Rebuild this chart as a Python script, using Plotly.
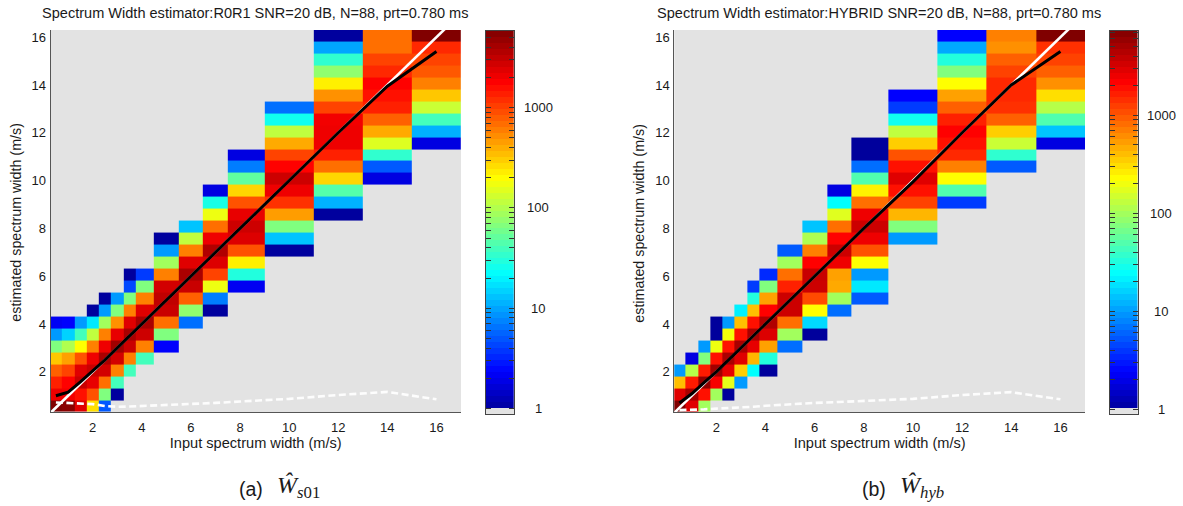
import math
import plotly.graph_objects as go

W, H = 1183, 506

# Bin edges of the two-dimensional histogram (m/s)
input_edges = [0.25, 0.75, 1.25, 1.75, 2.25, 2.75, 3.25, 3.75, 4.5, 5.5, 6.5, 7.5, 9, 11, 13, 15, 17]
est_first_edge = 0.32
est_bin = 0.5
est_rows = 32

# Counts per input-width column; each list starts at the row in *_start (row 0 = lowest)
a_start = [0, 0, 0, 0, 0, 1, 3, 4, 5, 7, 8, 10, 13, 16, 19, 22]
a_counts = [
    [5800, 2060, 1350, 776, 319, 66, 9, 2.1],
    [5300, 1990, 1770, 1000, 443, 100, 14.7, 2.3],
    [2370, 1550, 2950, 2370, 880, 197, 39, 9],
    [259, 880, 2200, 2950, 2060, 590, 114, 18, 1],
    [5.1, 66, 680, 2720, 3900, 2060, 590, 88, 9, 1],
    [1, 39, 590, 2720, 4300, 2200, 510, 66, 9],
    [39, 590, 2950, 3990, 2370, 590, 66, 4.4, 1],
    [39, 590, 2850, 3990, 2370, 590, 66, 3.9],
    [2.3, 66, 680, 2950, 3200, 2720, 590, 88, 9, 1],
    [6.2, 76, 776, 2950, 3990, 2370, 590, 114, 13],
    [1, 7, 170, 1000, 2450, 3700, 2060, 680, 170, 27, 1.8],
    [2.1, 29, 225, 880, 2450, 2850, 2200, 880, 280, 50, 7, 1.8],
    [1, 13, 66, 460, 1170, 2060, 2850, 1770, 1000, 410, 114, 25, 6.2],
    [1, 11, 45, 280, 680, 1350, 2060, 2060, 1990, 1000, 510, 225, 76, 33, 10, 1],
    [1.8, 5.1, 33, 148, 410, 776, 1350, 1550, 1770, 1260, 1000, 680, 680],
    [1.8, 11, 39, 125, 319, 590, 830, 1000, 1260, 5800],
]
b_start = [0, 0, 0, 1, 1, 2, 3, 3, 5, 6, 8, 9, 14, 17, 20, 22]
b_counts = [
    [7170, 2871, 395, 9.6],
    [2871, 4898, 1700, 118, 1.85],
    [99, 1858, 6200, 1700, 74, 9.6],
    [99, 2300, 5300, 1858, 195, 1, 1],
    [1, 180, 2700, 4800, 1858, 205, 9.6],
    [9.6, 347, 2871, 4898, 1858, 395, 21],
    [24, 430, 2700, 4898, 1858, 390, 32, 4.1],
    [1, 32, 517, 3000, 4500, 2128, 517, 74, 3.5],
    [6.5, 99, 802, 3467, 3467, 1614, 802, 99, 5.4],
    [1, 16.9, 226, 1110, 3467, 3600, 2128, 693, 110, 14],
    [6.5, 99, 480, 517, 2489, 3467, 2128, 802, 171, 24, 1.85],
    [5.4, 19.5, 9.6, 226, 1040, 2489, 3467, 2489, 802, 250, 48, 6.5, 1, 1],
    [9.6, 74, 430, 1190, 1858, 2871, 1858, 1040, 347, 129, 27, 4.1, 2.4],
    [4.1, 48, 226, 693, 1500, 1858, 2128, 1614, 917, 517, 226, 74, 32, 11, 2.4],
    [5.4, 36, 141, 347, 917, 1394, 1500, 1500, 1190, 917, 600, 693],
    [1.85, 14, 48, 118, 300, 600, 917, 1190, 1394, 7170],
]

# Overlaid curves
input_width = [0.5, 1, 1.5, 2, 2.5, 3, 3.5, 4, 5, 6, 7, 8, 10, 12, 14, 16]
a_mean = [1.0, 1.15, 1.58, 2.02, 2.5, 3, 3.5, 4, 5, 6, 7, 8, 10, 12, 13.95, 15.4]
b_mean = [0.7, 1.08, 1.55, 2, 2.5, 3, 3.5, 4, 5, 6, 7, 8, 9.95, 12, 14, 15.4]
a_std = [0.72, 0.7, 0.67, 0.65, 0.57, 0.54, 0.55, 0.57, 0.6, 0.63, 0.7, 0.76, 0.87, 1.03, 1.16, 0.85]
b_std = [0.4, 0.4, 0.43, 0.46, 0.48, 0.5, 0.54, 0.58, 0.65, 0.7, 0.74, 0.78, 0.87, 1.03, 1.15, 0.85]
ideal = [0.25, 16.5]

x_ticks = [2, 4, 6, 8, 10, 12, 14, 16]
y_ticks = [2, 4, 6, 8, 10, 12, 14, 16]
bar_labels = [1, 10, 100, 1000]
bar_minor = [1, 2, 3, 4, 5, 6, 7, 8, 9, 10, 20, 30, 40, 50, 60, 70, 80, 90,
             100, 200, 300, 400, 500, 600, 700, 800, 900, 1000, 2000, 3000, 4000, 5000, 6000, 7000]

title_a = "Spectrum Width estimator:R0R1 SNR=20 dB, N=88, prt=0.780 ms"
title_b = "Spectrum Width estimator:HYBRID SNR=20 dB, N=88, prt=0.780 ms"
x_label = "Input spectrum width (m/s)"
y_label = "estimated spectrum width (m/s)"

JET = [[0, "#00008f"], [0.111, "#0000ff"], [0.365, "#00ffff"], [0.615, "#ffff00"],
       [0.865, "#ff0000"], [1, "#800000"]]
GREY = "#e3e3e3"
AXC = "#555555"
SANS = "Liberation Sans"
TXT = "#1a1a1a"

est_edges = [est_first_edge + est_bin * i for i in range(est_rows + 1)]


def grid(starts, columns):
    z = [[None] * len(columns) for _ in range(est_rows)]
    for c, (s, vals) in enumerate(zip(starts, columns)):
        for k, v in enumerate(vals):
            z[s + k][c] = math.log10(v)
    return z


def px(x):
    return x / W


def py(y):
    return 1 - y / H


fig = go.Figure()
panels = [
    dict(xd=(50.5, 461), xr=[0.28, 17], bar=(485.7, 514), cmin=0.88, cmax=5834, starts=a_start,
         cols=a_counts, mean=a_mean, std=a_std, title=title_a, tx=255, lc=538, ylx=16,
         cap=("(a)", 250.5, "<i>Ŵ</i><sub><i>s</i>01</sub>", 298)),
    dict(xd=(674.3, 1085), xr=[0.29, 17], bar=(1109.7, 1137.7), cmin=0.89, cmax=7200, starts=b_start,
         cols=b_counts, mean=b_mean, std=b_std, title=title_b, tx=879, lc=1161, ylx=639,
         cap=("(b)", 874, "<i>Ŵ</i><sub><i>hyb</i></sub>", 922)),
]
layout = {}
annotations = []
for i, p in enumerate(panels):
    ax_x = f"x{'' if i == 0 else 3}"
    ax_y = f"y{'' if i == 0 else 3}"
    bx = f"x{2 if i == 0 else 4}"
    by = f"y{2 if i == 0 else 4}"
    zmin, zmax = math.log10(p["cmin"]), math.log10(p["cmax"])
    fig.add_trace(go.Heatmap(x=input_edges, y=est_edges, z=grid(p["starts"], p["cols"]), colorscale=JET,
                             zmin=zmin, zmax=zmax, showscale=False, xaxis=ax_x, yaxis=ax_y, zsmooth=False))
    fig.add_trace(go.Scatter(x=ideal, y=ideal, mode="lines", line=dict(color="white", width=2.6),
                             xaxis=ax_x, yaxis=ax_y, showlegend=False))
    fig.add_trace(go.Scatter(x=input_width, y=p["std"], mode="lines",
                             line=dict(color="#fdfdfd", width=2.6, dash="7px,3.5px"),
                             xaxis=ax_x, yaxis=ax_y, showlegend=False))
    fig.add_trace(go.Scatter(x=input_width, y=p["mean"], mode="lines", line=dict(color="black", width=3),
                             xaxis=ax_x, yaxis=ax_y, showlegend=False))
    # 64-level colour bar drawn on its own log axis, lowest level shows the "no data" grey
    levels = 64
    step = (zmax - zmin) / levels
    bar_edges = [zmin + step * k for k in range(levels + 1)]
    bar_z = [[None]] + [[zmin + step * (k + 0.5)] for k in range(1, levels)]
    fig.add_trace(go.Heatmap(x=[0, 1], y=bar_edges, z=bar_z, colorscale=JET, zmin=zmin, zmax=zmax,
                             showscale=False, xaxis=bx, yaxis=by, zsmooth=False))

    key = "" if i == 0 else "3"
    bkey = "2" if i == 0 else "4"
    font = dict(family=SANS, size=13, color=TXT)
    layout[f"xaxis{key}"] = dict(domain=[px(p["xd"][0]), px(p["xd"][1])], range=p["xr"], tickvals=x_ticks,
                                 ticks="", showgrid=False, zeroline=False, showline=True, linecolor=AXC, linewidth=1,
                                 tickfont=font, anchor=ax_y, ticklabelstandoff=3,
                                 title=dict(text=x_label, font=dict(family=SANS, size=14.6, color=TXT), standoff=4))
    layout[f"yaxis{key}"] = dict(domain=[py(412), py(30)], range=[0.32, 16.3], tickvals=y_ticks,
                                 ticks="", showgrid=False, zeroline=False, showline=True, linecolor=AXC, linewidth=1,
                                 tickfont=font, anchor=ax_x, ticklabelstandoff=1)
    annotations.append(dict(text=y_label, textangle=-90, xref="paper", yref="paper", x=px(p["ylx"]), y=py(222.7),
                            showarrow=False, xanchor="center", yanchor="middle",
                            font=dict(family=SANS, size=14.3, color=TXT)))
    layout[f"xaxis{bkey}"] = dict(domain=[px(p["bar"][0]), px(p["bar"][1])], range=[0, 1], showticklabels=False,
                                  ticks="", showgrid=False, zeroline=False, showline=True, mirror=True,
                                  linecolor="#444444", linewidth=1, anchor=by)
    layout[f"yaxis{bkey}"] = dict(domain=[py(414), py(31)], range=[zmin, zmax], side="right", showticklabels=False,
                                  tickvals=[math.log10(v) for v in bar_minor if v <= p["cmax"]], ticks="inside", ticklen=5,
                                  tickcolor="#333333", tickwidth=1, showgrid=False, zeroline=False, showline=True,
                                  mirror="ticks", linecolor="#444444", linewidth=1, anchor=bx)
    for v in bar_labels:
        annotations.append(dict(text=str(v), xref="paper", x=px(p["lc"]), yref=by, y=math.log10(v), showarrow=False,
                                xanchor="center", yanchor="middle", font=font))
    annotations.append(dict(text=p["title"], xref="paper", yref="paper", x=px(p["tx"]), y=py(13), showarrow=False,
                            xanchor="center", yanchor="middle", font=dict(family=SANS, size=14.55, color=TXT)))
    cap = p["cap"]
    annotations.append(dict(text=cap[0], xref="paper", yref="paper", x=px(cap[1]), y=py(489), showarrow=False,
                            xanchor="center", yanchor="middle", font=dict(family=SANS, size=19.5, color=TXT)))
    annotations.append(dict(text=cap[2], xref="paper", yref="paper", x=px(cap[3]), y=py(487), showarrow=False,
                            xanchor="center", yanchor="middle", font=dict(family="Liberation Serif", size=24, color=TXT)))

fig.update_layout(width=W, height=H, margin=dict(l=0, r=0, t=0, b=0), autosize=False, showlegend=False,
                  hovermode=False, paper_bgcolor="white", plot_bgcolor=GREY, annotations=annotations, **layout)
fig.write_html("out.html", config={"displayModeBar": False}, post_script="document.body.style.margin='0';")
